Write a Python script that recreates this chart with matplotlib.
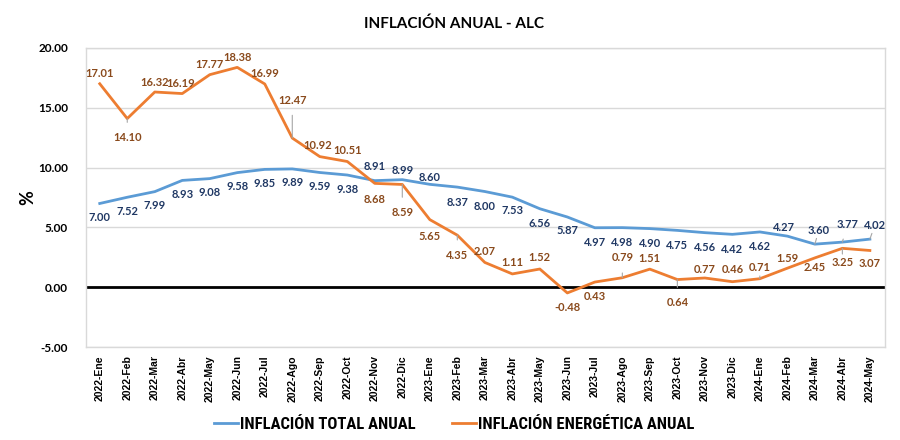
import matplotlib
matplotlib.use("Agg")
import matplotlib.pyplot as plt

months = ["2022-Ene","2022-Feb","2022-Mar","2022-Abr","2022-May","2022-Jun","2022-Jul","2022-Ago",
          "2022-Sep","2022-Oct","2022-Nov","2022-Dic","2023-Ene","2023-Feb","2023-Mar","2023-Abr",
          "2023-May","2023-Jun","2023-Jul","2023-Ago","2023-Sep","2023-Oct","2023-Nov","2023-Dic",
          "2024-Ene","2024-Feb","2024-Mar","2024-Abr","2024-May"]
total = [7.00, 7.52, 7.99, 8.93, 9.08, 9.58, 9.85, 9.89, 9.59, 9.38, 8.91, 8.99, 8.60, 8.37, 8.00,
         7.53, 6.56, 5.87, 4.97, 4.98, 4.90, 4.75, 4.56, 4.42, 4.62, 4.27, 3.60, 3.77, 4.02]
energia = [17.01, 14.10, 16.32, 16.19, 17.77, 18.38, 16.99, 12.47, 10.92, 10.51, 8.68, 8.59, 5.65,
           4.35, 2.07, 1.11, 1.52, -0.48, 0.43, 0.79, 1.51, 0.64, 0.77, 0.46, 0.71, 1.59, 2.45, 3.25, 3.07]

# label offsets (pixels, dx, dy; dy>0 = above) and leader flags
tot_off = [(0,-14),(0,-14),(0,-14),(0,-14),(0,-14),(0,-14),(0,-14),(0,-14),(0,-14),(0,-14),
           (0,14),(0,9),(0,7),(0,-15),(0,-15),(0,-13),(0,-15),(0,-14),(0,-15),(0,-15),(0,-15),
           (0,-15),(0,-15),(0,-15),(0,-15),(-3,9),(4,14),(5,18),(5,14)]
tot_lead = [False]*26 + [True, True, True]
en_off = [(0,10),(0,-19),(0,10),(-2,10),(0,10),(0,10),(0,10),(0,38),(-2,11),(0,11),(0,-16),(0,-28),
          (0,-17),(0,-20),(0,11),(0,11),(0,12),(0,-15),(0,-14),(0,20),(0,11),(0,-23),(0,8),(0,12),
          (0,11),(0,10),(0,-10),(0,-14),(0,-13)]
en_lead = [False, True, False, False, False, False, False, True, False, False, False, True,
           False, True, False, False, False, False, False, True, False, True, False, False,
           True, False, False, True, False]

plt.rcParams['font.family'] = ["Liberation Sans", "DejaVu Sans"]
LABEL_FONT = ["Lato", "DejaVu Sans"]
COND_FONT = ["Roboto Condensed", "DejaVu Sans"]

BLUE = "#5b9bd5"
ORANGE = "#ed7d31"
BLUE_T = "#203864"
ORANGE_T = "#8a4a1c"

fig = plt.figure(figsize=(9, 4.4), dpi=100)
ax = fig.add_axes([86/900, 1-347/440, (885-86)/900, (347-48)/440])
x = list(range(len(months)))
ax.plot(x, total, color=BLUE, lw=2, label="INFLACIÓN TOTAL ANUAL", zorder=3)
ax.plot(x, energia, color=ORANGE, lw=2, label="INFLACIÓN ENERGÉTICA ANUAL", zorder=3)

ax.set_xlim(-0.5, 28.55)
ax.set_ylim(-5, 20)
ax.set_yticks([-5, 0, 5, 10, 15, 20])
ax.set_yticklabels([f"{v:.2f}" for v in [-5, 0, 5, 10, 15, 20]], fontfamily=LABEL_FONT,
                   fontweight="bold", fontsize=8.5)
ax.set_xticks(x)
ax.set_xticklabels(months, rotation=90, fontsize=7.5, fontweight="bold")
ax.tick_params(length=0, pad=6)
ax.tick_params(axis='y', pad=13)
ax.grid(axis='y', color="#d9d9d9", lw=1)
ax.axhline(0, color="black", lw=2, zorder=2)
for s in ax.spines.values():
    s.set_color("#d9d9d9")
    s.set_linewidth(1)

ax.set_ylabel("%", fontsize=13, fontweight="bold", fontfamily=LABEL_FONT)
ax.yaxis.set_label_coords(-0.062, 0.5)
fig.text(0.505, 1-24/440, "INFLACIÓN ANUAL - ALC", ha="center", va="center",
         fontsize=11, fontweight="bold", fontfamily=LABEL_FONT)

def labels(vals, offs, leads, col):
    for i, (v, (dx, dy), ld) in enumerate(zip(vals, offs, leads)):
        kw = {}
        if ld:
            kw["arrowprops"] = dict(arrowstyle="-", color="#a6a6a6", lw=0.8,
                                    shrinkA=5, shrinkB=0)
        ax.annotate(f"{v:.2f}", (i, v), xytext=(dx, dy), textcoords="offset pixels",
                    ha="center", va="center", fontsize=8, fontweight="bold",
                    fontfamily=LABEL_FONT, color=col, zorder=4, **kw)

labels(total, tot_off, tot_lead, BLUE_T)
labels(energia, en_off, en_lead, ORANGE_T)

leg = fig.legend(loc="center", bbox_to_anchor=(0.505, 1-424/440), ncol=2, frameon=False,
                 prop={"family": COND_FONT, "weight": "bold", "size": 12},
                 handlelength=1.4, handletextpad=0.15, columnspacing=2.2)

fig.savefig("out.png", dpi=100, facecolor="white")
